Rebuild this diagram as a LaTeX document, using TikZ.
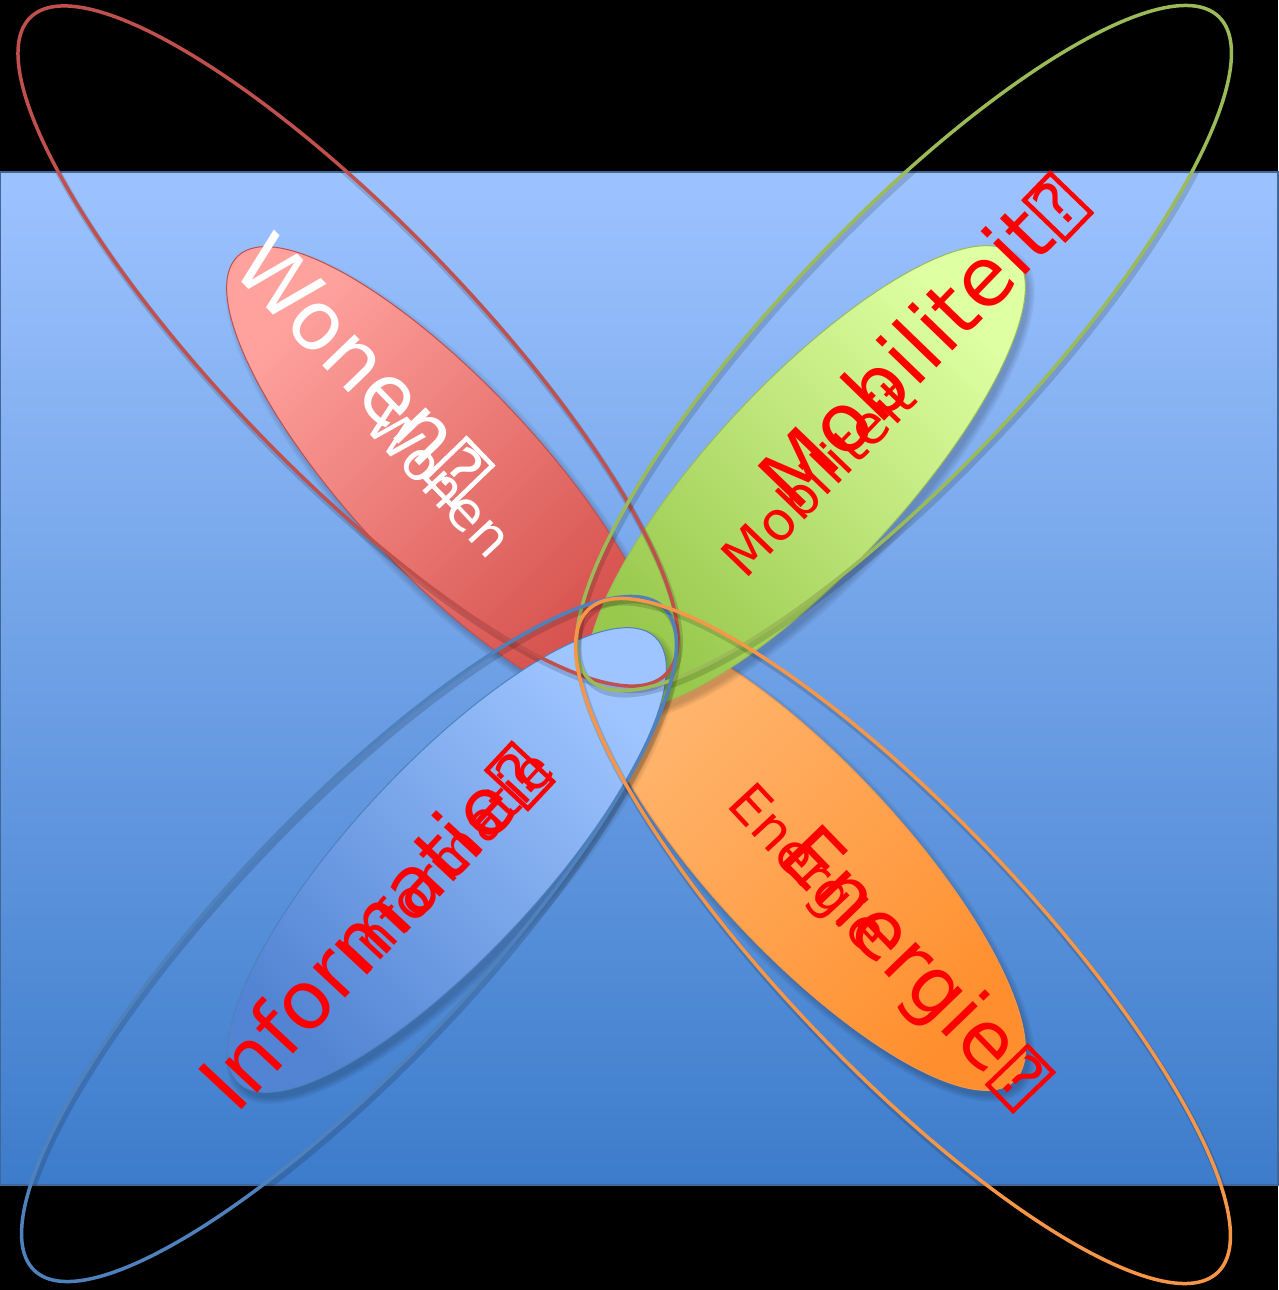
\documentclass[tikz,border=0pt]{standalone}
\usepackage{fontspec}
\setmainfont{DejaVu Sans}
\definecolor{cRed}{HTML}{C0504D}
\definecolor{cGreen}{HTML}{9BBB59}
\definecolor{cBlue}{HTML}{4F81BD}
\definecolor{cOrange}{HTML}{F79646}
\definecolor{txtRed}{HTML}{FF0000}
\definecolor{bgTop}{HTML}{9DC3FF}
\definecolor{bgBot}{HTML}{3D7CCB}
\definecolor{redTop}{HTML}{FFA29E}
\definecolor{redBot}{HTML}{D44E4A}
\definecolor{grnTop}{HTML}{DEFFA2}
\definecolor{grnBot}{HTML}{98C84C}
\definecolor{orgTop}{HTML}{FFB771}
\definecolor{orgBot}{HTML}{FF8F2E}
\definecolor{bluTop}{HTML}{9EC5FF}
\definecolor{bluBot}{HTML}{5384D3}
\newcommand{\qbox}{\makebox[0.6em]{\raisebox{-0.02em}{\fboxsep=0pt\fboxrule=0.055em\fbox{\makebox[0.4em]{\rule{0pt}{0.64em}\raisebox{0.08em}{\scalebox{0.75}{?}}}}}}}
% #1 cx, #2 cy, #3 angle, #4 light colour, #5 dark colour, #6 line colour, #7 shading angle
\newcommand{\petal}[7]{%
  \foreach \k in {1,2,3,4}{\fill[black,opacity=0.05,shift={(#1+4,-#2-6)},rotate=#3] (0,0) ellipse ({303+2*\k} and {93+2*\k});}
  \begin{scope}
    \clip[shift={(#1,-#2)},rotate=#3] (0,0) ellipse (305 and 95);
    \shade[top color=#4,bottom color=#5,shading angle=#7] (#1-222,-#2+235) rectangle (#1+222,-#2-235);
  \end{scope}
  \draw[#6,line width=1pt,shift={(#1,-#2)},rotate=#3] (0,0) ellipse (305 and 95);}
\newcommand{\ring}[4]{%
  \draw[black,opacity=0.15,line width=6pt,shift={(#1+2,-#2-4)},rotate=#3] (0,0) ellipse (457 and 125);
  \draw[#4,line width=3.5pt,shift={(#1,-#2)},rotate=#3] (0,0) ellipse (457 and 125);}
\tikzset{
  bigtxt/.style={font=\fontsize{82}{90}\selectfont, inner sep=0pt, anchor=base west},
  smalltxt/.style={font=\fontsize{54}{60}\selectfont, inner sep=0pt, anchor=center},
}
\begin{document}
\begin{tikzpicture}[x=1pt,y=1pt]
\useasboundingbox (0,0) rectangle (1278,-1290);
\fill[black] (0,0) rectangle (1278,-1290);
% background panel
\shade[top color=bgTop,bottom color=bgBot] (0,-172) rectangle (1278,-1185);
\draw[cBlue!80!black,line width=1.2pt] (0,-172) rectangle (1278,-1185);
% petals
\petal{806}{858}{-47}{orgTop}{orgBot}{cOrange}{45}
\petal{446}{479}{-47}{redTop}{redBot}{cRed}{45}
\petal{806}{478}{47}{grnTop}{grnBot}{cGreen}{-45}
\petal{447}{860}{47}{bluTop}{bluBot}{cBlue}{-45}
% rings
\ring{348}{346}{-46}{cRed}
\ring{904}{348}{46.5}{cGreen}
\ring{349}{939}{46.5}{cBlue}
\ring{903}{941}{-46.5}{cOrange}
% texts
\node[smalltxt,white,rotate=-47] (wonS) at (440,-481) {Wonen};
\node[bigtxt,white,rotate=-46] (wonL) at (229,-269) {Wonen\qbox};
\node[smalltxt,txtRed,rotate=46] (mobS) at (818,-477) {Mobiliteit};
\node[bigtxt,txtRed,rotate=46] (mobL) at (795,-514) {Mobiliteit\qbox};
\node[smalltxt,txtRed,rotate=47] (infS) at (447,-860) {Informatie};
\node[bigtxt,txtRed,rotate=47,font=\fontsize{81}{90}\selectfont] (infL) at (236,-1116) {Informatie\qbox};
\node[smalltxt,txtRed,rotate=-47] (eneS) at (806,-870) {Energie};
\node[bigtxt,txtRed,rotate=-46,font=\fontsize{80}{90}\selectfont] (eneL) at (775,-859) {Energie\qbox};
\end{tikzpicture}
\end{document}
